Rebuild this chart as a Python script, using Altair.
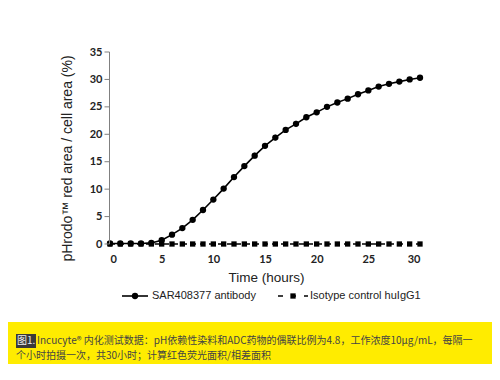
import altair as alt
import pandas as pd

# ---- data ----
hours = [0, 1, 2, 3, 4, 5, 6, 7, 8, 9, 10, 11, 12, 13, 14, 15, 16, 17, 18, 19, 20,
         21, 22, 23, 24, 25, 26, 27, 28, 29, 30]
sar408377 = [0.1, 0.1, 0.1, 0.1, 0.2, 0.7, 1.7, 2.9, 4.4, 6.2, 8.1, 10.1, 12.2, 14.2,
             16.1, 17.9, 19.4, 20.8, 21.9, 23.1, 24.0, 25.0, 25.8, 26.5, 27.3, 28.0,
             28.7, 29.2, 29.6, 30.0, 30.3]
sar_err = [0.05, 0.05, 0.05, 0.05, 0.1, 0.2, 0.2, 0.3, 0.3, 0.3, 0.4, 0.5, 0.5, 0.5,
           0.6, 0.5, 0.6, 0.5, 0.6, 0.5, 0.4, 0.4, 0.4, 0.4, 0.4, 0.4, 0.4, 0.4,
           0.3, 0.3, 0.3]
isotype = [0.0, 0.0, 0.0, 0.0, 0.0, 0.0, 0.0, 0.0, 0.0, 0.0, 0.0, 0.0, 0.0, 0.0, 0.0,
           0.0, 0.0, 0.0, 0.0, 0.0, 0.0, 0.0, 0.0, 0.0, 0.0, 0.0, 0.0, 0.0, 0.0, 0.0, 0.0]

x_ticks = [0, 5, 10, 15, 20, 25, 30]
y_ticks = [0, 5, 10, 15, 20, 25, 30, 35]

series_names = ["SAR408377 antibody", "Isotype control huIgG1"]
x_title = "Time (hours)"
y_title = "pHrodo\u2122 red area / cell area (%)"
caption_tag = "图1."
caption_line1 = "Incucyte® 内化测试数据：pH依赖性染料和ADC药物的偶联比例为4.8，工作浓度10μg/mL，每隔一"
caption_line2 = "个小时拍摄一次，共30小时；计算红色荧光面积/相差面积"

df_sar = pd.DataFrame({"t": hours, "v": sar408377, "e": sar_err})
df_sar["lo"] = df_sar["v"] - df_sar["e"]
df_sar["hi"] = df_sar["v"] + df_sar["e"]
df_iso = pd.DataFrame({"t": hours, "v": isotype})
df_yticks = pd.DataFrame({"v": y_ticks})

YELLOW = "#FFEC00"
AXIS_GREY = "#808080"
PW, PH = 310, 192
PAD_L, PAD_T, TOTAL_W, TOTAL_H = 102, 44, 484, 356

x_scale = alt.Scale(domain=[0, 30], nice=False)
y_scale = alt.Scale(domain=[0, 35], nice=False)
x_axis = alt.Axis(values=x_ticks, title=x_title, grid=False, domain=False, ticks=False,
                  labelPadding=9, labelFont="Lato", labelFontWeight="bold",
                  labelFontSize=11, labelColor="#222", titleFont="Liberation Sans",
                  titleFontSize=13.5, titleFontWeight="normal", titleColor="#222",
                  titleX=156, titleY=33, titleBaseline="middle")
y_axis = alt.Axis(values=y_ticks, title=y_title, grid=False, domain=False, ticks=False,
                  labelPadding=8, labelFont="Lato",
                  labelFontWeight="bold", labelFontSize=11, labelColor="#222",
                  labelOverlap=False,
                  titleFont="Liberation Sans", titleFontSize=14,
                  titleFontWeight="normal", titleColor="#222", titleAngle=-90,
                  titleX=-43, titleY=106, titleAlign="center",
                  titleBaseline="middle")

X = alt.X("t:Q", scale=x_scale, axis=x_axis)
Y = alt.Y("v:Q", scale=y_scale, axis=y_axis)

err = alt.Chart(df_sar).mark_rule(color="#999", strokeWidth=1).encode(
    x=X, y=alt.Y("lo:Q", scale=y_scale, axis=y_axis), y2="hi:Q")
line_sar = alt.Chart(df_sar).mark_line(color="black", strokeWidth=1.6).encode(x=X, y=Y)
pts_sar = alt.Chart(df_sar).mark_circle(color="black", size=40, opacity=1).encode(x=X, y=Y)
line_iso = alt.Chart(df_iso).mark_line(color="black", strokeWidth=1.6,
                                       strokeDash=[5, 4]).encode(x=X, y=Y)
pts_iso = alt.Chart(df_iso).mark_square(color="black", size=28, opacity=1).encode(x=X, y=Y)

one = alt.Data(values=[{"k": 1}])

# y axis line as a thin filled bar along the left edge of the plot area,
# plus tick marks placed through the y scale
ydomain = alt.Chart(one).mark_rect(color=AXIS_GREY, opacity=1).encode(
    x=alt.value(-1), x2=alt.value(0), y=alt.value(0), y2=alt.value(PH))
yticks = alt.Chart(df_yticks).mark_tick(color=AXIS_GREY, orient="horizontal",
                                        size=5, thickness=1, opacity=1).encode(
    x=alt.value(-3), y=Y)

# caption band
band = alt.Chart(one).mark_rect(color=YELLOW).encode(
    x=alt.value(-PAD_L), x2=alt.value(TOTAL_W - PAD_L),
    y=alt.value(270), y2=alt.value(TOTAL_H - PAD_T))
tag_box = alt.Chart(one).mark_rect(color="#3a3a3a").encode(
    x=alt.value(-94), x2=alt.value(-74), y=alt.value(282), y2=alt.value(296))
tag_txt = alt.Chart(one).mark_text(font="Noto Sans CJK SC", fontSize=10, color="#eeeeee",
                                   align="left", baseline="middle").encode(
    x=alt.value(-93), y=alt.value(289), text=alt.value(caption_tag))
cap1 = alt.Chart(one).mark_text(font="Noto Sans CJK SC", fontSize=10, color="#444",
                                align="left", baseline="middle").encode(
    x=alt.value(-73), y=alt.value(289), text=alt.value(caption_line1))
cap2 = alt.Chart(one).mark_text(font="Noto Sans CJK SC", fontSize=10, color="#444",
                                align="left", baseline="middle").encode(
    x=alt.value(-94), y=alt.value(304), text=alt.value(caption_line2))

# legend
leg_line1 = alt.Chart(one).mark_rule(color="black", strokeWidth=1.6).encode(
    x=alt.value(12), x2=alt.value(38), y=alt.value(244))
leg_pt1 = alt.Chart(one).mark_circle(color="black", size=40, opacity=1).encode(
    x=alt.value(25), y=alt.value(244))
leg_txt1 = alt.Chart(one).mark_text(font="Liberation Sans", fontSize=11, color="#222",
                                    align="left", baseline="middle").encode(
    x=alt.value(42), y=alt.value(244), text=alt.value(series_names[0]))
leg_line2 = alt.Chart(one).mark_rule(color="black", strokeWidth=1.6,
                                     strokeDash=[5, 8]).encode(
    x=alt.value(168), x2=alt.value(198), y=alt.value(244))
leg_pt2 = alt.Chart(one).mark_square(color="black", size=28, opacity=1).encode(
    x=alt.value(183), y=alt.value(244))
leg_txt2 = alt.Chart(one).mark_text(font="Liberation Sans", fontSize=11, color="#222",
                                    align="left", baseline="middle").encode(
    x=alt.value(200), y=alt.value(244), text=alt.value(series_names[1]))

chart = alt.layer(
    band, tag_box, tag_txt, cap1, cap2,
    err, line_sar, line_iso, pts_iso, pts_sar,
    leg_line1, leg_pt1, leg_txt1, leg_line2, leg_pt2, leg_txt2,
    ydomain, yticks,
).properties(
    width=PW, height=PH,
    autosize=alt.AutoSizeParams(type="none"),
    padding={"left": PAD_L, "top": PAD_T, "right": TOTAL_W - PAD_L - PW,
             "bottom": TOTAL_H - PAD_T - PH},
    background="white",
).configure_view(strokeWidth=0)

chart.save("out.html", embed_options={"renderer": "svg", "actions": False})
